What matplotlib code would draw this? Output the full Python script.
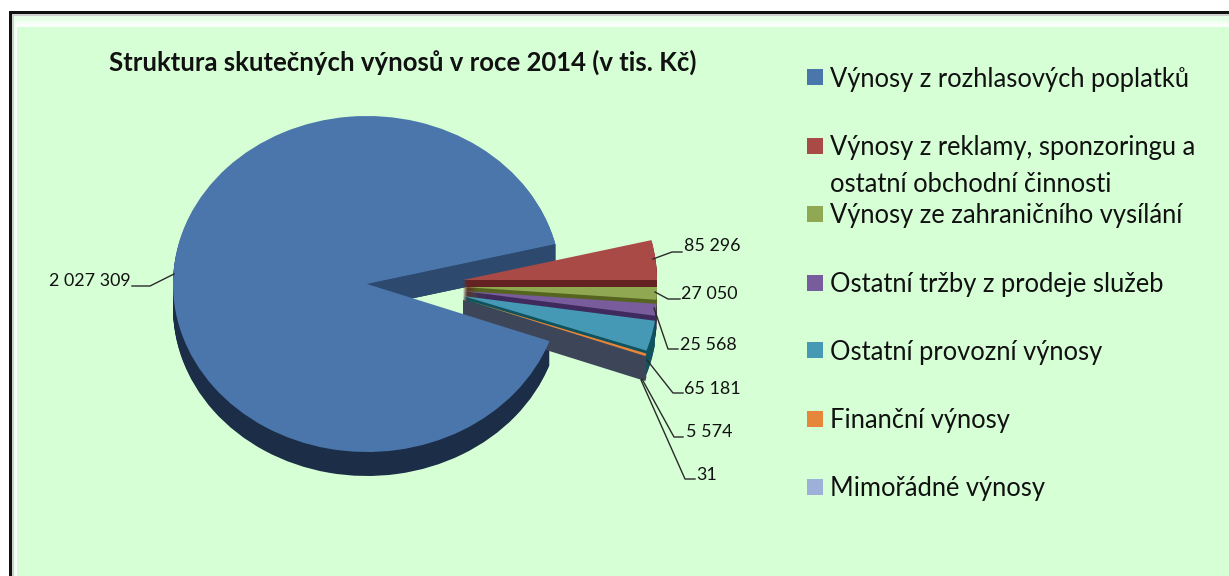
import numpy as np
import matplotlib
matplotlib.use("Agg")
import matplotlib.pyplot as plt
from matplotlib.patches import Rectangle, Polygon

W, H = 1229, 576
TITLE = "Struktura skutečných výnosů v roce 2014 (v tis. Kč)"
categories = ["Výnosy z rozhlasových poplatků",
              "Výnosy z reklamy, sponzoringu a\nostatní obchodní činnosti",
              "Výnosy ze zahraničního vysílání",
              "Ostatní tržby z prodeje služeb",
              "Ostatní provozní výnosy",
              "Finanční výnosy",
              "Mimořádné výnosy"]
values = [2027309, 85296, 27050, 25568, 65181, 5574, 31]
value_labels = ["2 027 309", "85 296", "27 050", "25 568", "65 181", "5 574", "31"]
colors = ["#4A76AB", "#A94A47", "#8FA851", "#795C9B", "#4599B4", "#E5863A", "#9DB1D8"]
wall_colors = ["#1B2D47", "#642222", "#55651F", "#3E2A5C", "#10535F", "#3D4558", "#3D4558"]
cut_color = "#2D4A6E"
BG = "#D6FFD6"

# geometry in reference pixels
CX, CY, RX, RY, DEPTH = 367, 284, 194, 168, 24
slice_centres = [(367, 284), (463, 280), (463, 287), (463, 291), (463, 296), (463, 299), (463, 300)]
legend_y = [77, 146, 214, 283, 350, 419, 487]
legend_text_y = [67, 135, 203, 272, 340, 408, 476]
label_pos = [(49, 281), (684, 246), (681, 294), (680, 345), (684, 389), (686, 432), (696, 475)]
leaders = [[(132, 286), (150, 286), (174, 274)],
           [(653, 259), (672, 252), (682, 252)],
           [(655, 292), (668, 299), (680, 299)],
           [(654, 308), (668, 349), (678, 349)],
           [(647, 360), (673, 393), (683, 393)],
           [(642, 379), (674, 437), (683, 437)],
           [(641, 380), (685, 479), (695, 479)]]

fig = plt.figure(figsize=(W / 100, H / 100), dpi=100, facecolor="white")

# background panel (pixel coordinates)
bg = fig.add_axes([0, 0, 1, 1], zorder=0)
bg.set_xlim(0, W); bg.set_ylim(H, 0); bg.axis("off")
bg.add_patch(Rectangle((9, 11), W, H, fc="#111111", ec="none"))
bg.add_patch(Rectangle((12, 14), W, H, fc="#D0D0D0", ec="none"))
bg.add_patch(Rectangle((14, 16), W, H, fc="#E6FFE6", ec="none"))
bg.add_patch(Rectangle((15, 21), W, H, fc="#F2FFF2", ec="none"))
bg.add_patch(Rectangle((16, 24), W, H, fc="#FBFFFB", ec="none"))
bg.add_patch(Rectangle((17, 27), W, H, fc=BG, ec="none"))

# pie axes: one data unit = RX px horizontally and RY px vertically
ax = fig.add_axes([0, 0, 1, 1], zorder=1)


def to_data(px, py):
    return (px - CX) / RX, (CY - py) / RY


total = sum(values)
red_start = 360 * values[1] / total          # red lies between this angle and 0 deg
start = red_start + 360 * values[0] / total  # the big slice runs clockwise round to it
last_end = red_start - 360 * sum(values[1:]) / total


def draw_pie(cols, dy=0):
    wedges, _ = ax.pie(values, colors=cols, startangle=start, counterclock=False,
                       radius=1, wedgeprops={"linewidth": 0})
    for w, (px, py) in zip(wedges, slice_centres):
        w.set_center(to_data(px, py + dy))
    return wedges


def cut_face(angle_deg, centre, color, z):
    c = np.array(to_data(*centre))
    t = np.radians(angle_deg)
    tip = c + np.array([np.cos(t), np.sin(t)])
    d = np.array([0, -DEPTH / RY])
    ax.add_patch(Polygon([c, tip, tip + d, c + d], closed=True, fc=color, ec="none", zorder=z))


# extruded walls, drawn as stacked copies of the pie, then the top surfaces
for dy in range(DEPTH, 0, -1):
    for i, w in enumerate(draw_pie(wall_colors, dy)):
        w.set_zorder(1 if i == 0 else 3 + 2 * i)
cut_face(red_start, slice_centres[0], cut_color, 2)
cut_face(last_end, slice_centres[6], wall_colors[6], 15)
for i, w in enumerate(draw_pie(colors)):
    w.set_zorder(30 if i == 0 else 4 + 2 * i)

ax.set_aspect("auto")
x0, y1 = to_data(0, 0)
x1, y0 = to_data(W, H)
ax.set_xlim(x0, x1); ax.set_ylim(y0, y1)
ax.axis("off")

# text layer (pixel coordinates)
ov = fig.add_axes([0, 0, 1, 1], zorder=2)
ov.set_xlim(0, W); ov.set_ylim(H, 0); ov.axis("off")
ov.patch.set_alpha(0)

FONT = "Lato"
ov.text(402.5, 62, TITLE, ha="center", va="center", family=FONT, weight="bold",
        fontsize=18.55, color="#111111")

for name, col, y, ty in zip(categories, colors, legend_y, legend_text_y):
    ov.add_patch(Rectangle((807, y - 8), 16, 16, fc=col, ec="none"))
    ov.text(830, ty, name, ha="left", va="top", family=FONT,
            fontsize=18.4, color="#111111", linespacing=1.6)

for txt, (x, y), pts in zip(value_labels, label_pos, leaders):
    ov.text(x, y, txt, ha="left", va="center", family=FONT, fontsize=12.9, color="#111111")
    ov.plot(*zip(*pts), color="#2A2A2A", lw=1.0)

fig.savefig("out.png", dpi=100, facecolor="white")
